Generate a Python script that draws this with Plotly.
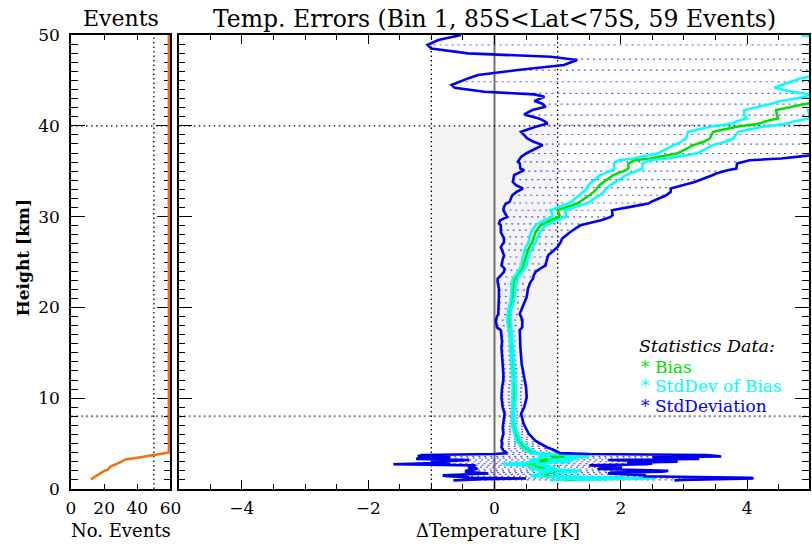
import numpy as np
import plotly.graph_objects as go

# ---------------- data ----------------
# Events panel
event_height_km = [1.08, 1.30, 1.50, 1.75, 2.00, 2.10, 2.50, 2.80, 3.25, 3.45, 3.80, 4.00, 4.03, 50.0]
event_count = [12, 14, 16, 18, 20, 22, 24, 28, 33, 40, 50, 58, 59, 59]

# Temperature error statistics (descending height as read)
height_km = [50.00, 49.45, 48.90, 48.50, 47.98, 47.60, 47.24, 46.69, 46.14, 45.59,
             45.22, 44.49, 44.19, 43.75, 43.46, 43.20, 42.72, 42.46, 42.10, 41.73,
             41.25, 40.81, 40.51, 40.26, 39.89, 39.34, 38.60, 38.24, 37.87, 37.32,
             36.95, 36.58, 36.40, 36.21, 36.03, 35.85, 35.29, 35.11, 34.74, 34.56,
             33.82, 33.46, 33.09, 32.72, 32.35, 31.62, 31.43, 31.07, 30.70, 30.15,
             29.96, 29.60, 29.23, 29.04, 28.31, 27.57, 27.21, 26.65, 26.10, 25.74,
             25.00, 24.63, 24.26, 23.90, 23.53, 23.16, 22.79, 22.06, 21.15, 20.20,
             19.30, 18.60, 17.80, 17.50, 16.20, 15.60, 13.80, 13.40, 12.70, 12.00,
             11.20, 10.10, 9.00, 8.30, 7.20, 6.80, 6.10, 5.30, 5.00, 4.60,
             4.24, 4.06, 3.95, 3.85, 3.75, 3.65, 3.58, 3.50, 3.40, 3.30,
             3.20, 3.10, 3.00, 2.90, 2.80, 2.72, 2.60, 2.50, 2.40, 2.30,
             2.20, 2.10, 2.00, 1.90, 1.80, 1.70, 1.60, 1.50, 1.40, 1.30,
             1.23, 1.15, 1.08, 1.00, 0.95]
bias_K = [5.66, 6.30, 6.50, 6.40, 6.20, 6.20, 6.30, 6.20, 6.00, 5.90,
          5.64, 5.33, 5.19, 5.43, 5.65, 5.57, 5.10, 4.96, 4.70, 4.46,
          4.47, 4.49, 4.30, 4.20, 3.83, 3.46, 3.41, 3.31, 3.15, 3.00,
          2.89, 2.60, 2.47, 2.21, 2.15, 2.12, 2.12, 2.08, 1.94, 1.88,
          1.73, 1.66, 1.62, 1.57, 1.50, 1.36, 1.31, 1.15, 1.00, 1.03,
          1.02, 0.89, 0.78, 0.73, 0.65, 0.61, 0.60, 0.55, 0.52, 0.50,
          0.47, 0.46, 0.44, 0.40, 0.36, 0.33, 0.31, 0.30, 0.29, 0.26,
          0.23, 0.23, 0.24, 0.25, 0.26, 0.26, 0.28, 0.29, 0.30, 0.31,
          0.31, 0.31, 0.30, 0.29, 0.30, 0.31, 0.34, 0.38, 0.42, 0.47,
          0.55, 0.60, 0.62, 0.75, 1.10, 1.15, 1.19, 0.90, 1.00, 1.00,
          0.70, 0.80, 0.95, 0.70, 0.45, 0.40, 0.60, 0.75, 0.80, 0.70,
          0.68, 0.95, 1.15, 1.10, 0.85, 0.85, 0.80, 0.79, 0.80, 1.50,
          1.78, 2.30, 1.40, 1.18, 1.10]
std_K = [6.19, 7.19, 7.56, 7.40, 6.62, 5.31, 4.99, 5.10, 5.63, 6.16,
         6.06, 6.01, 5.82, 5.59, 5.02, 4.78, 4.47, 4.21, 3.89, 3.86,
         4.00, 3.79, 3.51, 3.36, 3.18, 3.04, 2.89, 2.69, 2.39, 2.40,
         2.39, 2.18, 2.07, 1.83, 1.78, 1.72, 1.71, 1.61, 1.57, 1.57,
         1.44, 1.32, 1.17, 1.22, 1.22, 1.12, 1.13, 1.00, 0.86, 0.84,
         0.82, 0.80, 0.71, 0.63, 0.55, 0.46, 0.45, 0.45, 0.39, 0.35,
         0.35, 0.35, 0.28, 0.25, 0.26, 0.28, 0.26, 0.23, 0.22, 0.19,
         0.17, 0.21, 0.20, 0.15, 0.14, 0.15, 0.15, 0.15, 0.16, 0.17,
         0.19, 0.20, 0.17, 0.13, 0.16, 0.18, 0.20, 0.27, 0.30, 0.36,
         0.41, 0.42, 0.42, 0.75, 2.25, 2.35, 2.40, 1.60, 2.20, 2.24,
         1.10, 1.50, 1.95, 1.40, 2.05, 2.00, 0.90, 1.10, 1.22, 1.00,
         0.95, 1.35, 1.60, 1.55, 1.00, 0.95, 1.30, 1.61, 1.55, 1.90,
         2.29, 1.80, 1.60, 1.81, 1.75]
n_events = 59

# heights of the dotted std-deviation connectors
dot_levels_km = [48.9, 47.35, 46.14, 44.85, 43.57, 42.39, 41.18, 40.07, 39.04, 37.98,
                 36.95, 36.03, 35.0, 34.08, 33.2, 32.35, 31.5, 30.7, 29.96, 29.2,
                 28.5, 27.76, 27.0, 26.3, 25.55, 24.8, 24.1, 23.35, 22.6, 21.9,
                 21.2, 20.5, 19.85, 19.2, 18.6, 18.0, 17.4, 16.85, 16.3, 15.75,
                 15.2, 14.7, 14.2, 13.7, 13.25, 12.8, 12.35, 11.9, 11.5, 11.1,
                 10.7, 10.3, 9.9, 9.55, 9.2, 8.85, 8.5, 8.15, 7.8, 7.5,
                 7.2, 6.9, 6.6, 6.3, 6.0, 5.7, 5.45, 5.2, 4.95, 4.7,
                 4.45, 4.2, 4.0, 3.8, 3.6, 3.4, 3.2, 3.0, 2.8, 2.6,
                 2.4, 2.2, 2.0, 1.8, 1.6, 1.4, 1.2, 1.0]

title_left = "Events"
title_right = "Temp. Errors (Bin 1, 85S<Lat<75S, 59 Events)"
xlabel_left = "No. Events"
xlabel_right = "ΔTemperature [K]"
ylabel = "Height [km]"
legend_head = "Statistics Data:"
legend_items = ["Bias", "StdDev of Bias", "StdDeviation"]

# ---------------- derived ----------------
h = np.array(height_km)
b = np.array(bias_K)
s = np.array(std_K)
sb = s / np.sqrt(n_events)
lo, hi = b - s, b + s

h_asc = h[::-1]
lo_i = np.interp(dot_levels_km, h_asc, lo[::-1])
hi_i = np.interp(dot_levels_km, h_asc, hi[::-1])
dx, dy = [], []
for L, a, c in zip(dot_levels_km, lo_i, hi_i):
    dx += [a, c, None]
    dy += [L, L, None]

GREEN = "#00e000"
CYAN = "#00ffff"
BLUE = "#0000f0"
SERIF = "DejaVu Serif"

# the page is photographed with a slight horizontal down-scale; work in page pixels
SX = 820 / 812


def PX(v):
    return v * SX


fig = go.Figure()

fig.add_trace(go.Scatter(x=event_count, y=event_height_km, mode="lines",
                         line=dict(color="#f07010", width=2.5), xaxis="x", yaxis="y",
                         showlegend=False, hoverinfo="skip"))

fig.add_trace(go.Scatter(x=dx, y=dy, mode="lines", xaxis="x2", yaxis="y2",
                         line=dict(color="rgba(40,40,255,0.8)", width=1.2, dash="2px,4px"),
                         showlegend=False, hoverinfo="skip"))
fig.add_trace(go.Scatter(x=b, y=h, mode="lines", xaxis="x2", yaxis="y2",
                         line=dict(color=GREEN, width=2.5), showlegend=False, hoverinfo="skip"))
for arr in (b - sb, b + sb):
    fig.add_trace(go.Scatter(x=arr, y=h, mode="lines", xaxis="x2", yaxis="y2",
                             line=dict(color=CYAN, width=2.5), showlegend=False,
                             hoverinfo="skip"))
for arr in (lo, hi):
    fig.add_trace(go.Scatter(x=arr, y=h, mode="lines", xaxis="x2", yaxis="y2",
                             line=dict(color=BLUE, width=2.6), showlegend=False,
                             hoverinfo="skip"))

shapes = [
    dict(type="rect", xref="x2", yref="y2", x0=-1, x1=1, y0=8, y1=40,
         fillcolor="#f4f4f4", line=dict(width=0), layer="below"),
    dict(type="line", xref="x2", yref="y2", x0=0, x1=0, y0=0, y1=50,
         line=dict(color="#707070", width=2), layer="below"),
]
for xv in (-1, 1):
    shapes.append(dict(type="line", xref="x2", yref="y2", x0=xv, x1=xv, y0=0, y1=50,
                       line=dict(color="black", width=1.3, dash="1.5px,3px"), layer="below"))
shapes.append(dict(type="line", xref="x", yref="y", x0=50, x1=50, y0=0, y1=50,
                   line=dict(color="black", width=1.3, dash="1.5px,3px"), layer="below"))
for xr, yr, x0, x1 in (("x", "y", 0, 60), ("x2", "y2", -5, 5)):
    shapes.append(dict(type="line", xref=xr, yref=yr, x0=x0, x1=x1, y0=40, y1=40,
                       line=dict(color="black", width=1.2, dash="1.5px,3.5px"), layer="below"))
    shapes.append(dict(type="line", xref=xr, yref=yr, x0=x0, x1=x1, y0=8, y1=8,
                       line=dict(color="#808080", width=2, dash="2px,3px"), layer="below"))

W, H = round(PX(812)), 546
ML, MT = PX(70), 35
MR, MB = 0, 57
PW, PH = W - ML - MR, H - MT - MB


def px(xs):
    return (PX(xs) - ML) / PW


def py(ys):
    return (H - MB - ys) / PH


ann = []
ann.append(dict(text=title_left, x=px(120), y=py(19), font=dict(size=22)))
ann.append(dict(text=title_right, x=px(496), y=py(19), font=dict(size=23.5)))
ann.append(dict(text=xlabel_left, x=px(120), y=py(530), font=dict(size=18)))
ann.append(dict(text=xlabel_right, x=px(499), y=py(530), font=dict(size=18)))
ann.append(dict(text="<b>" + ylabel + "</b>", x=px(22), y=py(258), textangle=-90,
                font=dict(size=17)))
ann.append(dict(text="<i>" + legend_head + "</i>", x=px(640), y=py(346), xanchor="left",
                font=dict(size=17.5)))
for i, (t, c) in enumerate(zip(legend_items, (GREEN, CYAN, BLUE))):
    ann.append(dict(text="* " + t, x=px(642), y=py(366.5 + 19.5 * i), xanchor="left",
                    font=dict(size=17, color=c)))
for a in ann:
    a.setdefault("xanchor", "center")
    a.setdefault("yanchor", "middle")
    a.update(xref="paper", yref="paper", showarrow=False, borderpad=0)
    a["font"].setdefault("color", "black")
    a["font"]["family"] = SERIF

tickfont = dict(family=SERIF, size=17, color="black")
common = dict(showline=True, linecolor="black", linewidth=1.5, mirror="ticks",
              ticks="inside", tickcolor="black", showgrid=False, zeroline=False,
              tickfont=tickfont)
left_dom = [0, PX(100) / PW]
right_dom = [(PX(178.3) - ML) / PW, 1]

fig.update_layout(
    width=W, height=H, margin=dict(l=ML, r=MR, t=MT, b=MB, pad=0),
    paper_bgcolor="white", plot_bgcolor="white",
    xaxis=dict(domain=left_dom, range=[0, 60], tickvals=[0, 20, 40, 60], ticklen=5,
               anchor="y", ticklabelstandoff=3, **common),
    yaxis=dict(domain=[0, 1], range=[0, 50], dtick=10, ticklen=14, anchor="x",
               minor=dict(dtick=1, ticklen=7, ticks="inside", tickcolor="black"),
               ticklabelstandoff=6, layer="below traces", **common),
    xaxis2=dict(domain=right_dom, range=[-5, 4.98], tick0=0, dtick=2, ticklen=9,
                minor=dict(dtick=0.5, ticklen=5, ticks="inside", tickcolor="black"),
                anchor="y2", ticklabelstandoff=3, **common),
    yaxis2=dict(domain=[0, 1], range=[0, 50], dtick=10, ticklen=14, anchor="x2",
                minor=dict(dtick=1, ticklen=7, ticks="inside", tickcolor="black"),
                showticklabels=False, **common),
    shapes=shapes, annotations=ann,
)

fig.write_html("out.html", config={"displayModeBar": False},
               post_script="document.body.style.margin='0';document.body.style.overflow='hidden';")
